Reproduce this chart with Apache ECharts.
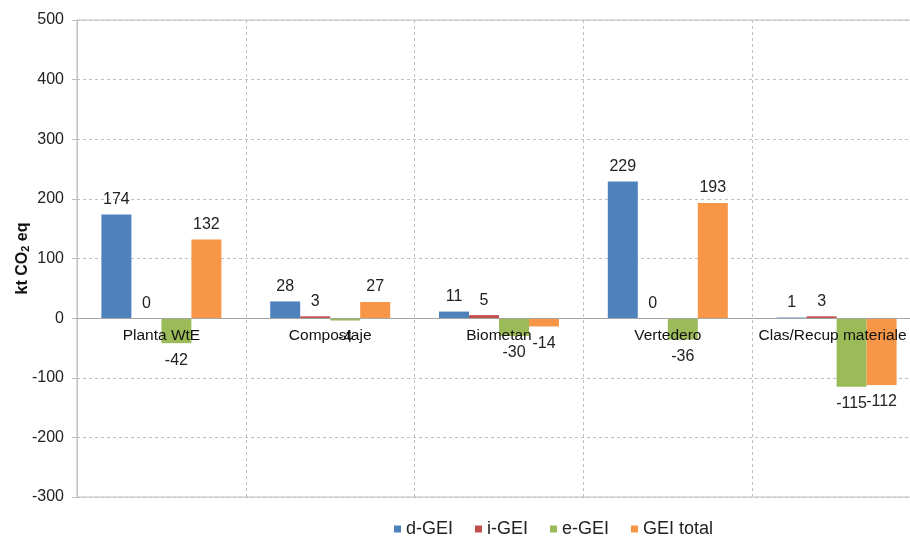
<!DOCTYPE html>
<html>
<head>
<meta charset="utf-8">
<script src="https://cdn.jsdelivr.net/npm/echarts@6/dist/echarts.min.js"></script>
<style>
html,body{margin:0;padding:0;background:#fff;}
#c{width:910px;height:538px;}
</style>
</head>
<body>
<div id="c"></div>
<script>
var categories = ['Planta WtE', 'Compostaje', 'Biometan', 'Vertedero', 'Clas/Recup materiale'];
var seriesNames = ['d-GEI', 'i-GEI', 'e-GEI', 'GEI total'];
var dGEI = [174, 28, 11, 229, 1];
var iGEI = [0, 3, 5, 0, 3];
var eGEI = [-42, -4, -30, -36, -115];
var geiTotal = [132, 27, -14, 193, -112];
var yTicks = [-300, -200, -100, 0, 100, 200, 300, 400, 500];

var colors = ['#4F81BD', '#C0504D', '#9BBB59', '#F79646'];
var font = "'Liberation Sans', Arial, sans-serif";
var allValues = [dGEI, iGEI, eGEI, geiTotal];

var gridTop = 20, gridBottom = 41, gridLeft = 77, gridWidth = 844;
var plotHeight = 538 - gridTop - gridBottom;
var yMin = yTicks[0], yMax = yTicks[yTicks.length - 1];
var zeroOffset = -plotHeight * (0 - yMin) / (yMax - yMin);

function buildData(arr) {
  return arr.map(function (v) {
    return { value: v, label: { position: v < 0 ? 'bottom' : 'top', distance: v < 0 ? 9 : 7 } };
  });
}

var categoryData = categories.map(function (c, i) {
  return i === categories.length - 1
    ? { value: c, textStyle: { padding: [0, 8, 0, 0] } }
    : c;
});

var series = seriesNames.map(function (name, i) {
  return {
    name: name,
    type: 'bar',
    barWidth: 30,
    barGap: '0%',
    itemStyle: { color: colors[i] },
    label: {
      show: true,
      fontSize: 16,
      fontFamily: font,
      color: '#222'
    },
    data: buildData(allValues[i])
  };
});

var chart = echarts.init(document.getElementById('c'), null, { renderer: 'canvas' });
chart.setOption({
  animation: false,
  color: colors,
  grid: {
    left: gridLeft, width: gridWidth, top: gridTop, bottom: gridBottom,
    containLabel: false,
    outerBoundsMode: 'none',
    show: true, borderColor: '#bfbfbf', borderWidth: 1
  },
  legend: {
    data: seriesNames,
    left: 389,
    top: 515,
    itemWidth: 7,
    itemHeight: 7,
    itemGap: 22,
    icon: 'rect',
    textStyle: { fontSize: 18, fontFamily: font, color: '#222' }
  },
  xAxis: {
    type: 'category',
    data: categoryData,
    z: 5,
    position: 'bottom',
    offset: zeroOffset,
    axisLine: { onZero: false, lineStyle: { color: '#a6a6a6', width: 1 } },
    axisTick: { show: false },
    axisLabel: { interval: 0, fontSize: 15.5, fontFamily: font, color: '#111', margin: 10 },
    splitLine: { show: true, interval: 0, lineStyle: { color: '#bfbfbf', type: [3, 3] } }
  },
  yAxis: {
    type: 'value',
    min: yMin,
    max: yMax,
    interval: 100,
    name: '{a|kt CO}{b|2}{a| eq}',
    nameLocation: 'middle',
    nameGap: 46,
    nameRotate: 90,
    nameMoveOverlap: false,
    nameTextStyle: {
      rich: {
        a: { fontSize: 16, fontWeight: 'bold', fontFamily: font, color: '#111' },
        b: { fontSize: 11, fontWeight: 'bold', fontFamily: font, color: '#111', verticalAlign: 'bottom', padding: [6, 0, 0, 0] }
      }
    },
    axisLine: { show: true, lineStyle: { color: '#bfbfbf' } },
    axisTick: { show: true, length: 5, lineStyle: { color: '#bfbfbf' } },
    axisLabel: { fontSize: 16, fontFamily: font, color: '#222', margin: 13 },
    splitLine: { show: true, lineStyle: { color: '#bfbfbf', type: [3, 3] } }
  },
  series: series
});
</script>
</body>
</html>
